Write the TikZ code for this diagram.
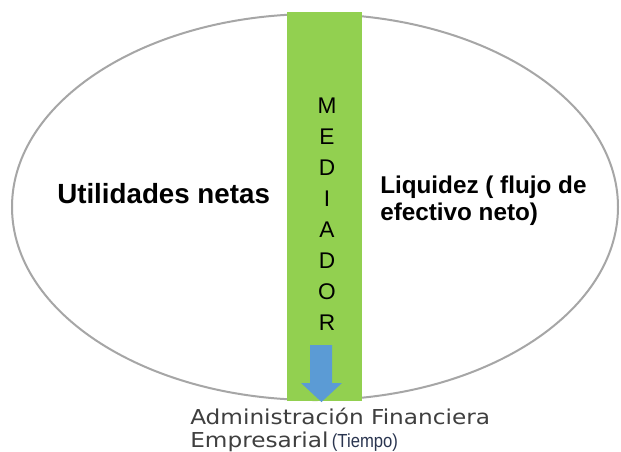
\documentclass[tikz,border=0pt]{standalone}
\usepackage{fontspec}
\setmainfont{Liberation Sans}
\newfontfamily\widefont{DejaVu Sans}[FakeStretch=1.13]
\newfontfamily\narrowfont{Liberation Sans}[FakeStretch=0.88]
\definecolor{mediagreen}{HTML}{92D050}
\definecolor{arrowblue}{HTML}{5B9BD5}
\definecolor{rimgray}{HTML}{A6A6A6}
\definecolor{notegray}{HTML}{3F3F3F}
\definecolor{tiempoblue}{HTML}{2A3550}
\tikzset{every node/.style={inner sep=0pt},
	boldtext/.style={font=\bfseries,text=black},
	letter/.style={font=\fontsize{17}{19}\selectfont,text=black}}

\begin{document}
\begin{tikzpicture}[x=0.75pt,y=-0.75pt]
		\useasboundingbox[fill=white] (0,0) rectangle (621,451);
		\draw[rimgray,line width=1.5pt] (315,207) ellipse [x radius=303,y radius=193];
		\fill[mediagreen] (287,12) rectangle (362,401);
		\foreach \ch [count=\i] in {M,E,D,I,A,D,O,R}
			\node[letter] (l\i) at (327,75+31*\i) {\ch};
		\fill[arrowblue] (310,345) -- (332,345) -- (332,383) -- (342,383)
			-- (321.5,402) -- (301,383) -- (310,383) -- cycle;
		
		\node[boldtext,anchor=base west,font=\fontsize{20.8}{25}\selectfont\bfseries] (util) at (57,203) {Utilidades netas};
		\node[boldtext,anchor=north west,align=left,font=\fontsize{18.2}{20.25}\selectfont\bfseries] (liq) at (380,176) {Liquidez ( flujo de\\efectivo neto)};
		\node[anchor=north west,align=left,text=notegray,font=\fontsize{15.4}{17.25}\selectfont\widefont] (admin) at (190,408)
			{Administración Financiera\\Empresarial\,{\narrowfont\fontsize{14.2}{17.25}\selectfont\color{tiempoblue}(Tiempo)}};
	\end{tikzpicture}
\end{document}
